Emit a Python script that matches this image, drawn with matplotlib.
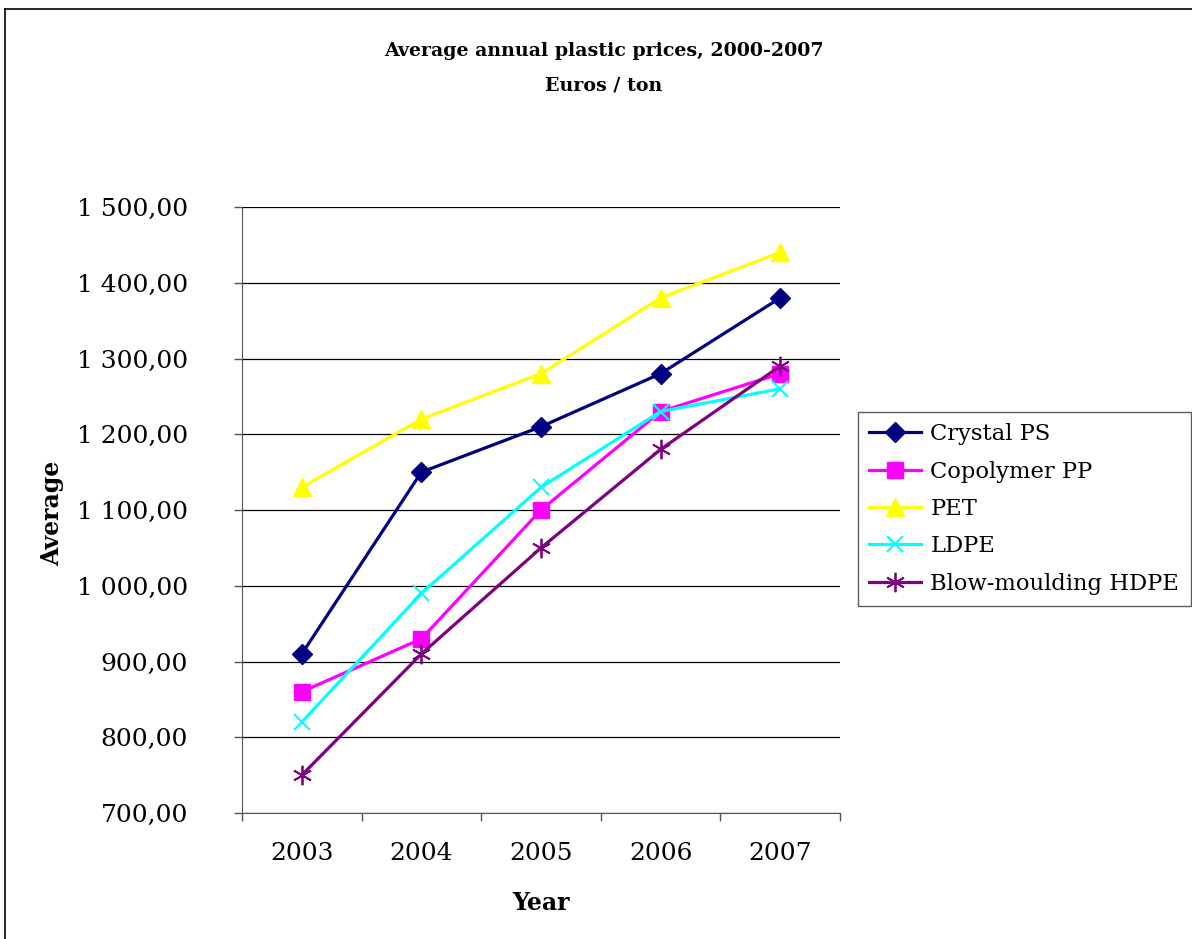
import matplotlib.pyplot as plt
from matplotlib.lines import Line2D

years = ['2003', '2004', '2005', '2006', '2007']
crystal_ps = [910, 1150, 1210, 1280, 1380]
copolymer_pp = [860, 930, 1100, 1230, 1280]
pet = [1130, 1220, 1280, 1380, 1440]
ldpe = [820, 990, 1130, 1230, 1260]
hdpe = [750, 910, 1050, 1180, 1290]
yvals = list(range(700, 1501, 100))
ylabels = ['700,00', '800,00', '900,00', '1 000,00', '1 100,00', '1 200,00',
           '1 300,00', '1 400,00', '1 500,00']

plt.rcParams['font.family'] = ['DejaVu Serif']

fig = plt.figure(figsize=(11.92, 9.39), dpi=100)
ax = fig.add_axes([242/1192, 1-813/939, (840-242)/1192, (813-207)/939])

x = range(len(years))
ax.plot(x, crystal_ps, color='#000080', lw=2.3, marker='D', ms=10.5, label='Crystal PS')
ax.plot(x, copolymer_pp, color='#ff00ff', lw=2.3, marker='s', ms=11, label='Copolymer PP')
ax.plot(x, pet, color='#ffff00', lw=2.3, marker='^', ms=13, label='PET')
ax.plot(x, ldpe, color='#00ffff', lw=2.3, marker='x', ms=12, mew=1.5, label='LDPE')
ax.plot(x, hdpe, color='#800080', lw=2.3, marker=(6, 2, 0), ms=14, mew=1.3, label='Blow-moulding HDPE')

ax.set_xlim(-0.5, 4.5)
ax.set_ylim(700, 1500)
ax.set_yticks(yvals)
ax.set_yticklabels(ylabels)
ax.set_xticks([i - 0.5 for i in range(6)])
ax.set_xticklabels([])
ax.set_xticks(list(x), minor=True)
ax.set_xticklabels(years, minor=True)
ax.tick_params(axis='x', which='minor', length=0, pad=21, labelsize=18)
ax.tick_params(axis='x', which='major', direction='out', length=6, width=1, color='#555555')
ax.tick_params(axis='y', direction='out', length=6, width=1, color='#555555', labelsize=18, pad=33)
ax.grid(axis='y', color='black', lw=0.9)
ax.set_axisbelow(True)
for s in ['top', 'right']:
    ax.spines[s].set_visible(False)
ax.spines['left'].set_color('#555555')
ax.spines['bottom'].set_color('#555555')

fig.text(52/1192, 1-513/939, 'Average', rotation=90, ha='center', va='center',
         fontsize=17, fontweight='bold')
fig.text(541/1192, 1-903/939, 'Year', ha='center', va='center', fontsize=17, fontweight='bold')

fig.text(604/1192, 1-51/939, 'Average annual plastic prices, 2000-2007', ha='center', va='center',
         fontsize=13.7, fontweight='bold')
fig.text(604/1192, 1-86/939, 'Euros / ton', ha='center', va='center', fontsize=13.7, fontweight='bold')

leg = ax.legend(loc='center left', bbox_to_anchor=(858/1192, 1-509/939), bbox_transform=fig.transFigure,
                fontsize=16.3, frameon=True, fancybox=False, edgecolor='#333333', borderpad=0.5,
                handlelength=2.3, labelspacing=0.68, handletextpad=0.4, borderaxespad=0)
leg.get_frame().set_linewidth(1)

# outer chart border (left and top edges visible)
fig.add_artist(Line2D([5/1192, 5/1192], [0, 1-9/939], transform=fig.transFigure, color='black', lw=1.2))
fig.add_artist(Line2D([5/1192, 1], [1-9/939, 1-9/939], transform=fig.transFigure, color='black', lw=1.2))

fig.savefig('out.png', dpi=100)
